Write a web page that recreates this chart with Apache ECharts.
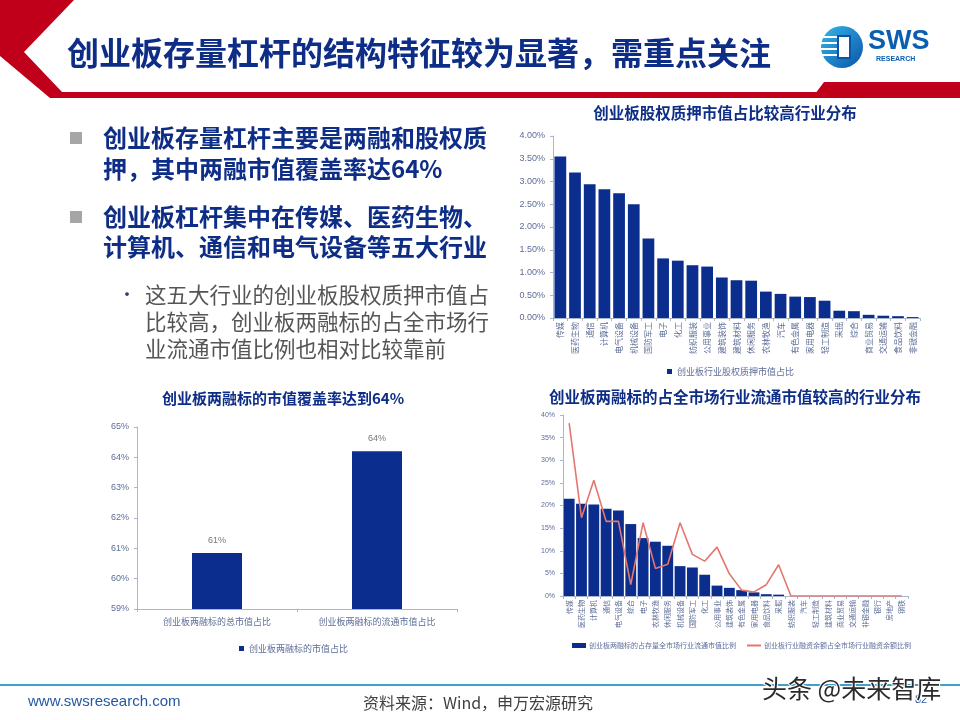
<!DOCTYPE html>
<html>
<head>
<meta charset="utf-8">
<script src="https://cdn.jsdelivr.net/npm/echarts@6/dist/echarts.min.js"></script>
<style>
html,body{margin:0;padding:0;background:#fff;}
#main{width:960px;height:720px;}
</style>
</head>
<body>
<div id="main"></div>
<script>
// 创业板股权质押市值占比较高行业分布
var pledgeCats = ['传媒','医药生物','通信','计算机','电气设备','机械设备','国防军工','电子','化工','纺织服装','公用事业','建筑装饰','建筑材料','休闲服务','农林牧渔','汽车','有色金属','家用电器','轻工制造','采掘','综合','商业贸易','交通运输','食品饮料','非银金融'];
var pledgeVals = [3.55,3.20,2.94,2.83,2.74,2.50,1.75,1.31,1.26,1.16,1.13,0.89,0.83,0.82,0.58,0.53,0.47,0.46,0.38,0.16,0.15,0.07,0.05,0.04,0.02];

// 创业板两融标的市值覆盖率
var coverCats = ['创业板两融标的总市值占比','创业板两融标的流通市值占比'];
var coverVals = [60.85,64.2];

// 创业板两融标的占全市场行业流通市值
var marginCats = ['传媒','医药生物','计算机','通信','电气设备','综合','电子','农林牧渔','休闲服务','机械设备','国防军工','化工','公用事业','建筑装饰','有色金属','家用电器','食品饮料','采掘','纺织服装','汽车','轻工制造','建筑材料','商业贸易','交通运输','非银金融','银行','房地产','钢铁'];
var marginFloatVals = [21.5,20.4,20.2,19.3,18.9,15.9,12.8,12.0,11.1,6.6,6.3,4.7,2.3,1.8,1.3,0.8,0.4,0.3,0,0,0,0,0,0,0,0,0,0];
var marginBalVals = [38.2,17.3,25.6,16.5,16.5,2.5,16.2,6.1,7.0,16.2,9.2,7.7,10.8,4.9,1.3,0.9,2.5,6.9,0,0,0,0,0,0,0,0,0,0];

var name1 = '创业板行业股权质押市值占比';
var name2 = '创业板两融标的市值占比';
var name3 = '创业板两融标的占存量全市场行业流通市值比例';
var name4 = '创业板行业融资余额占全市场行业融资余额比例';

var CJK = '"Noto Sans CJK SC", sans-serif';
var navy = '#0b2d8e';
var titleBlue = '#0d2d86';
var axisGray = '#5d6d98';
var lineGray = '#aab6cc';

function axisBase(fs) {
	return {
		axisLine: { show: true, lineStyle: { color: lineGray } },
		axisTick: { show: true, length: 3, lineStyle: { color: lineGray } },
		splitLine: { show: false },
		axisLabel: { color: axisGray, fontSize: fs, fontFamily: 'Liberation Sans, sans-serif' }
	};
}

function txt(text, x, y, font, fill, align) {
	return {
		type: 'text',
		style: { text: text, x: x, y: y, font: font, fill: fill, textAlign: align || 'left', textVerticalAlign: 'middle' }
	};
}

var chart = echarts.init(document.getElementById('main'));

var graphics = [
	// header
	{ type: 'polygon', shape: { points: [[0,0],[74,0],[24,52],[62,92],[62,98],[50,98],[0,56]] }, style: { fill: '#c0001a' } },
	{ type: 'rect', shape: { x: 55, y: 92, width: 905, height: 6 }, style: { fill: '#c0001a' } },
	{ type: 'polygon', shape: { points: [[824,82],[960,82],[960,98],[812,98]] }, style: { fill: '#c0001a' } },
	txt('创业板存量杠杆的结构特征较为显著，需重点关注', 67, 53, 'bold 32px ' + CJK, titleBlue),
	// logo
	{ type: 'circle', shape: { cx: 842, cy: 47, r: 21 }, style: { fill: new echarts.graphic.LinearGradient(0,0,1,1,[{offset:0,color:'#35b6ea'},{offset:1,color:'#0a55a8'}]) } },
	{ type: 'rect', shape: { x: 822, y: 36, width: 16, height: 2 }, style: { fill: '#fff' } },
	{ type: 'rect', shape: { x: 821, y: 42, width: 17, height: 2 }, style: { fill: '#fff' } },
	{ type: 'rect', shape: { x: 821, y: 48, width: 17, height: 2 }, style: { fill: '#fff' } },
	{ type: 'rect', shape: { x: 822, y: 54, width: 16, height: 2 }, style: { fill: '#fff' } },
	{ type: 'rect', shape: { x: 838, y: 36, width: 12, height: 22 }, style: { fill: '#fff', stroke: '#0a55a8', lineWidth: 2 } },
	txt('SWS', 868, 42, 'bold 27px "Liberation Sans", sans-serif', '#0a5fb0'),
	txt('RESEARCH', 876, 59, 'bold 7px "Liberation Sans", sans-serif', '#0a5fb0'),
	// left text
	{ type: 'rect', shape: { x: 70, y: 132, width: 12, height: 12 }, style: { fill: '#a6a6a6' } },
	txt('创业板存量杠杆主要是两融和股权质', 103, 138, 'bold 24px ' + CJK, titleBlue),
	txt('押，其中两融市值覆盖率达64%', 103, 169, 'bold 24px ' + CJK, titleBlue),
	{ type: 'rect', shape: { x: 70, y: 211, width: 12, height: 12 }, style: { fill: '#a6a6a6' } },
	txt('创业板杠杆集中在传媒、医药生物、', 103, 217, 'bold 24px ' + CJK, titleBlue),
	txt('计算机、通信和电气设备等五大行业', 103, 247, 'bold 24px ' + CJK, titleBlue),
	txt('•', 118, 294, '18px ' + CJK, '#2a3f7a'),
	txt('这五大行业的创业板股权质押市值占', 145, 295, '21.5px ' + CJK, '#555555'),
	txt('比较高，创业板两融标的占全市场行', 145, 322, '21.5px ' + CJK, '#555555'),
	txt('业流通市值比例也相对比较靠前', 145, 349, '21.5px ' + CJK, '#555555'),
	// chart titles
	txt('创业板股权质押市值占比较高行业分布', 725, 113, 'bold 15.5px ' + CJK, titleBlue, 'center'),
	txt('创业板两融标的市值覆盖率达到64%', 283, 398, 'bold 15px ' + CJK, titleBlue, 'center'),
	txt('创业板两融标的占全市场行业流通市值较高的行业分布', 735, 397, 'bold 15.5px ' + CJK, titleBlue, 'center'),
	// footer
	{ type: 'rect', shape: { x: 0, y: 684, width: 960, height: 2 }, style: { fill: '#3f9fcf' } },
	txt('www.swsresearch.com', 28, 702, '15px "Liberation Sans", sans-serif', '#2457a6'),
	txt('资料来源：Wind，申万宏源研究', 478, 703, '16px ' + CJK, '#404040', 'center'),
	txt('82', 915, 700, '11px "Liberation Sans", sans-serif', '#2457a6'),
	{ type: 'text', style: { text: '头条 @未来智库', x: 762, y: 688, font: '25px ' + CJK, fill: '#2b2b2b', stroke: '#ffffff', lineWidth: 2, textVerticalAlign: 'middle' } }
];

var option = {
	animation: false,
	graphic: { elements: graphics },
	grid: [
		{ left: 553, top: 136, width: 367, height: 182 },
		{ left: 137, top: 427, width: 320, height: 182 },
		{ left: 563, top: 415, width: 345, height: 181 }
	],
	legend: [
		{
			data: [name1], left: 662, top: 362, icon: 'rect', itemWidth: 5, itemHeight: 5, itemGap: 4,
			textStyle: { fontSize: 9, color: axisGray, fontFamily: CJK }
		},
		{
			data: [name2], left: 234, top: 639, icon: 'rect', itemWidth: 5, itemHeight: 5, itemGap: 4,
			textStyle: { fontSize: 9, color: axisGray, fontFamily: CJK }
		},
		{
			data: [
				{ name: name3, icon: 'rect' },
				{ name: name4, itemStyle: { opacity: 0 } }
			],
			left: 567, top: 637, itemWidth: 14, itemHeight: 5, itemGap: 10,
			textStyle: { fontSize: 7, color: axisGray, fontFamily: CJK, padding: [0, 0, 0, -2] }
		}
	],
	xAxis: [
		echarts.util.merge({
			type: 'category', gridIndex: 0, data: pledgeCats,
			axisLabel: { rotate: 90, interval: 0, fontSize: 8, margin: 4, fontFamily: CJK }
		}, axisBase(8)),
		echarts.util.merge({
			type: 'category', gridIndex: 1, data: coverCats,
			axisLabel: { interval: 0, fontSize: 9, margin: 8, fontFamily: CJK }
		}, axisBase(9)),
		echarts.util.merge({
			type: 'category', gridIndex: 2, data: marginCats,
			axisLabel: { rotate: 90, interval: 0, fontSize: 7, margin: 4, fontFamily: CJK }
		}, axisBase(7))
	],
	yAxis: [
		echarts.util.merge({
			type: 'value', gridIndex: 0, min: 0, max: 4, interval: 0.5,
			axisLabel: { formatter: function (v) { return v.toFixed(2) + '%'; } }
		}, axisBase(9)),
		echarts.util.merge({
			type: 'value', gridIndex: 1, min: 59, max: 65, interval: 1,
			axisLabel: { formatter: '{value}%' }
		}, axisBase(9)),
		echarts.util.merge({
			type: 'value', gridIndex: 2, min: 0, max: 40, interval: 5,
			axisLabel: { formatter: '{value}%' }
		}, axisBase(7))
	],
	series: [
		{
			name: name1, type: 'bar', xAxisIndex: 0, yAxisIndex: 0,
			barCategoryGap: '20%', itemStyle: { color: navy },
			data: pledgeVals
		},
		{
			name: name2, type: 'bar', xAxisIndex: 1, yAxisIndex: 1,
			barWidth: 50, itemStyle: { color: navy },
			label: {
				show: true, position: 'top', fontSize: 9, color: '#777', distance: 8,
				formatter: function (p) { return Math.round(p.value) + '%'; }
			},
			data: coverVals
		},
		{
			name: name3, type: 'bar', xAxisIndex: 2, yAxisIndex: 2,
			barCategoryGap: '12%', itemStyle: { color: navy },
			data: marginFloatVals
		},
		{
			name: name4, type: 'line', xAxisIndex: 2, yAxisIndex: 2,
			symbol: 'none', itemStyle: { color: '#e5766e' },
			lineStyle: { color: '#e5766e', width: 1.6 },
			data: marginBalVals
		}
	]
};

chart.setOption(option);
</script>
</body>
</html>
